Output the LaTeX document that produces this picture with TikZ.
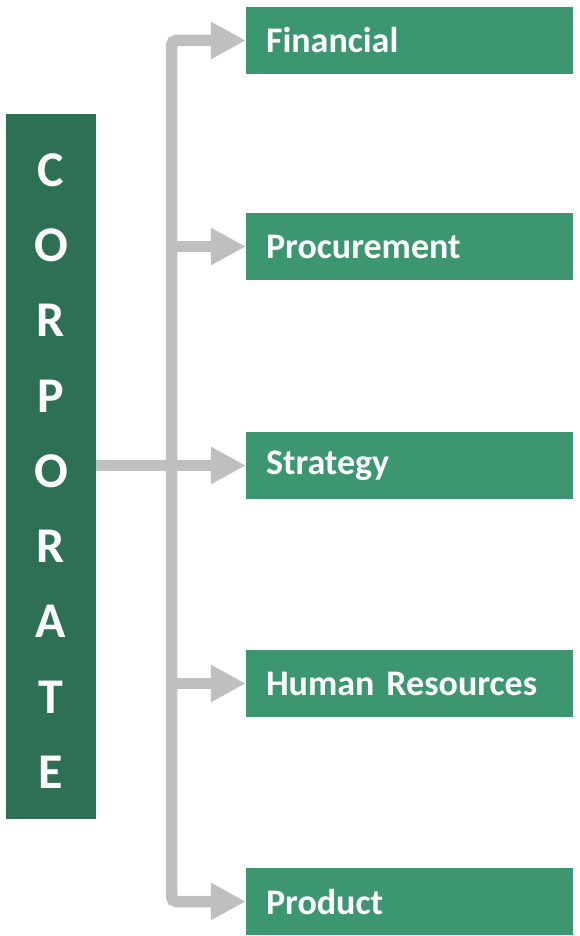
\documentclass[tikz,border=0pt]{standalone}
\usepackage{fontspec}
\setmainfont{Carlito}
\usetikzlibrary{arrows.meta,positioning,calc}

\definecolor{corpgreen}{RGB}{46,112,84}
\definecolor{deptgreen}{RGB}{60,150,112}
\definecolor{linkgray}{RGB}{191,191,191}

\tikzset{
  corpbox/.style={fill=corpgreen, minimum width=90pt, minimum height=705pt},
  corpletters/.style={text=white, align=center, font=\bfseries\fontsize{50}{75.25}\selectfont},
  deptbox/.style={fill=deptgreen, text=white, minimum height=67pt, inner xsep=20pt,
    text width=287pt, align=left, font=\bfseries\fontsize{36}{40}\selectfont},
  link/.style={draw=linkgray, line width=11.5pt},
  tip/.style={-{Triangle[length=35pt,width=35pt]}}
}

\begin{document}
\begin{tikzpicture}[x=1pt,y=-1pt]

\useasboundingbox (0,0) rectangle (579,936);

% left column
\node[corpbox] (corp) at (51,466.5) {};
\node[corpletters] (corptext) at ([yshift=-4.5pt]corp.center) {C\\O\\R\\P\\O\\R\\A\\T\\E};

% departments
\node[deptbox] (fin)   at (409.5,40.5)  {Financial};
\node[deptbox] (proc)  at (409.5,246.5) {Procurement};
\node[deptbox] (strat) at (409.5,465.5) {Strategy};
\node[deptbox] (hr)    at (409.5,683.5) {Human Resources};
\node[deptbox] (prod)  at (409.5,901.5) {Product};

\coordinate (spine) at (171.5,466);

% connectors
\draw[link, rounded corners=5pt, {Triangle[length=35pt,width=35pt]}-{Triangle[length=35pt,width=35pt]}]
  (fin.west) -| (spine) |- (prod.west);
\draw[link, tip] (proc.west -| spine) -- (proc.west);
\draw[link, tip] (hr.west -| spine) -- (hr.west);
\draw[link, tip] (corp.east |- strat.west) -- (strat.west);

\end{tikzpicture}
\end{document}
